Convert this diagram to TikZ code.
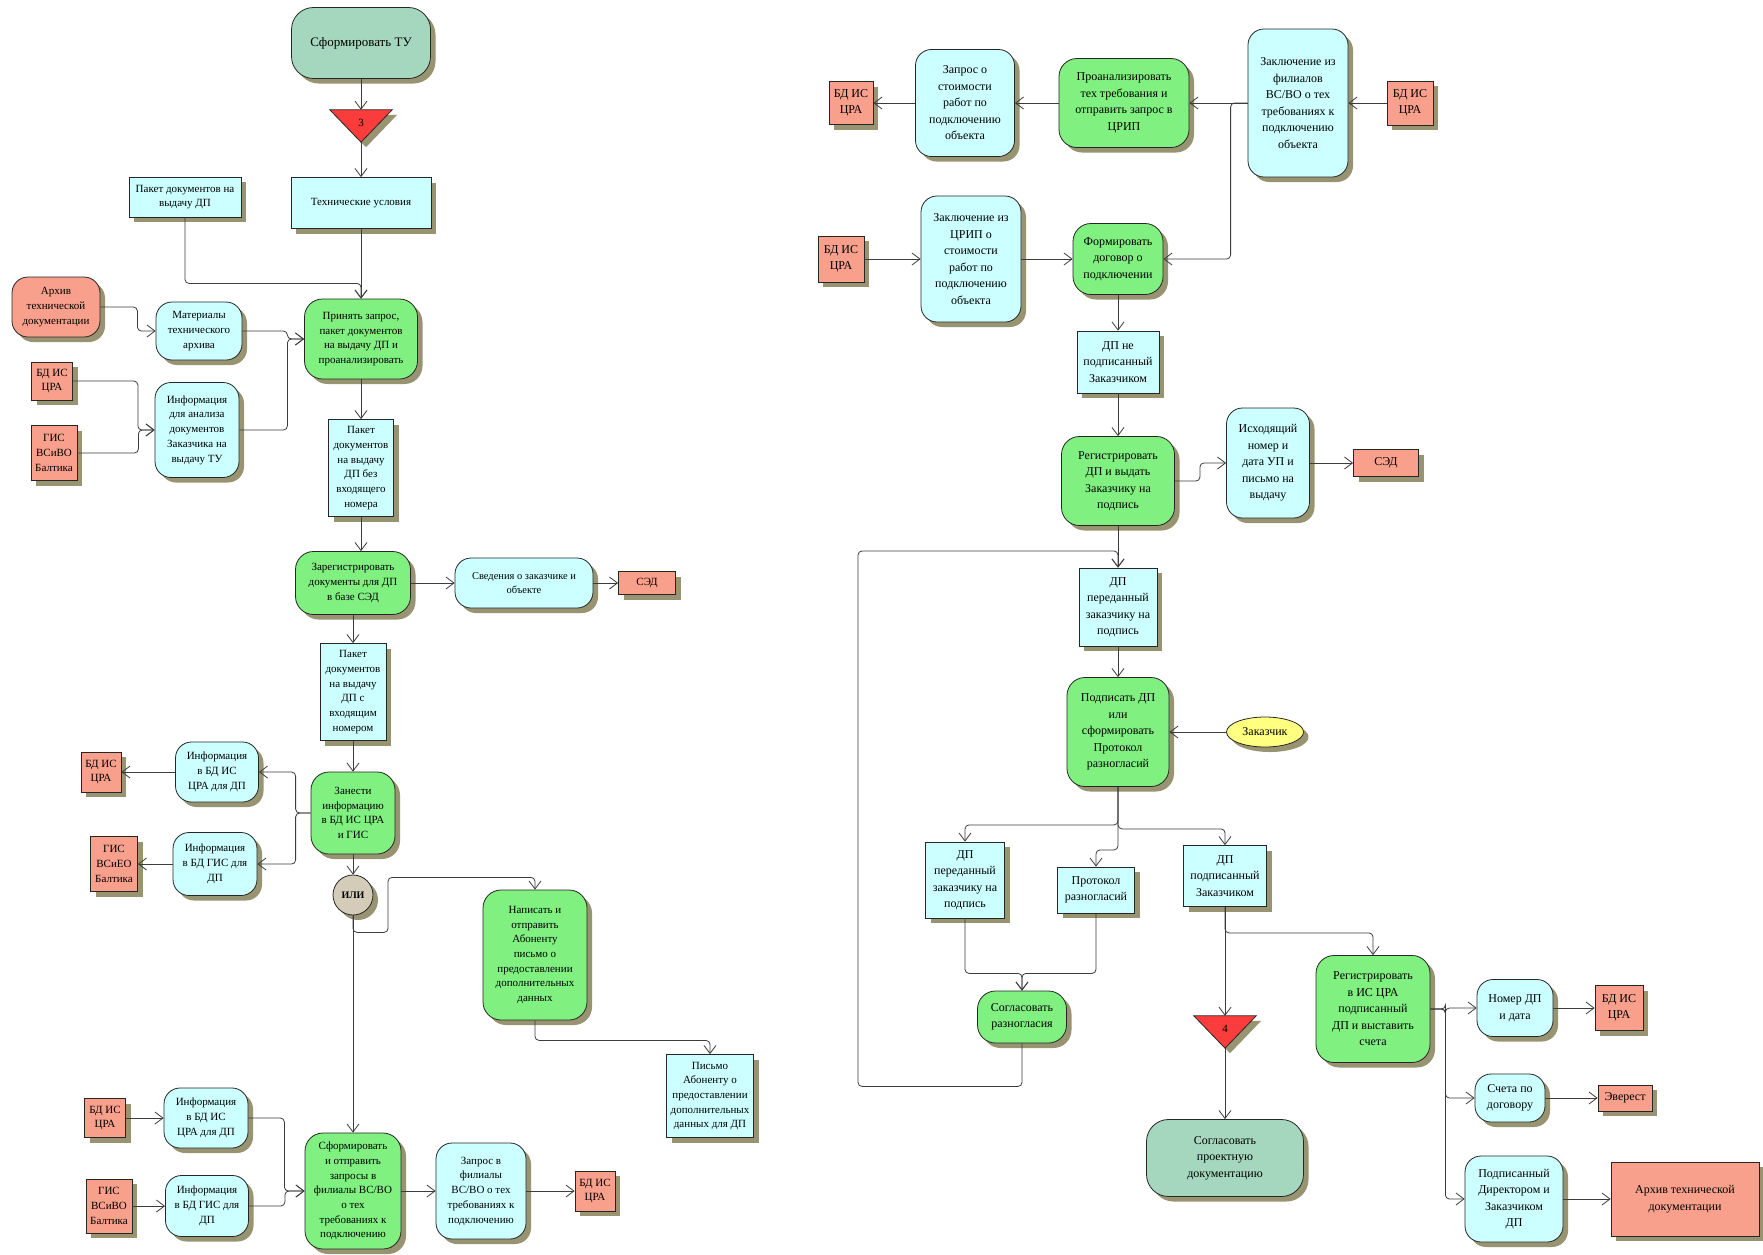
\documentclass[tikz,border=0pt]{standalone}
\usepackage{fontspec}
\setmainfont{Liberation Serif}
\usetikzlibrary{arrows.meta,shadows,shapes.geometric,backgrounds}

\definecolor{procgreen}{RGB}{128,240,128}
\definecolor{datacyan}{RGB}{204,255,255}
\definecolor{extsalmon}{RGB}{248,160,140}
\definecolor{termteal}{RGB}{165,215,190}
\definecolor{gatebeige}{RGB}{212,204,184}
\definecolor{actoryellow}{RGB}{255,255,128}
\definecolor{offred}{RGB}{250,60,60}
\definecolor{shadowc}{RGB}{152,148,114}
\definecolor{linec}{RGB}{60,60,60}

\begin{document}
\begin{tikzpicture}[x=1pt, y=-1pt,
    font=\fontsize{11}{14.7}\selectfont,
    base/.style={draw=black!85, line width=0.8pt, align=center, inner sep=1pt,
        drop shadow={shadow xshift=5pt, shadow yshift=-5pt, opacity=1, fill=shadowc}},
    proc/.style={base, fill=procgreen, rounded corners=18pt},
    data/.style={base, fill=datacyan, rounded corners=16pt},
    doc/.style={base, fill=datacyan},
    ext/.style={base, fill=extsalmon},
    term/.style={base, fill=termteal, rounded corners=22pt},
    gate/.style={base, circle, fill=gatebeige, minimum size=40, font=\fontsize{10}{12}\selectfont\bfseries},
    actor/.style={base, ellipse, fill=actoryellow},
    offp/.style={minimum width=62, minimum height=32, inner sep=0pt, font=\fontsize{11}{12}\selectfont},
    rgt/.style={font=\fontsize{12}{16.5}\selectfont},
    arrow/.style={-{Straight Barb[length=8pt,width=12pt]}, draw=linec, line width=0.8pt, rounded corners=4pt}
]
    \useasboundingbox (0,0) rectangle (1763,1254);

    % Left part: nodes
    \node[term, minimum width=139, minimum height=71, font=\fontsize{13}{16}\selectfont] (term1) at (361,43) {Сформировать ТУ};
    \node[offp] (t3) at (361,126) {\raisebox{6pt}{3}};
    \node[doc, minimum width=140, minimum height=51] (tu) at (361,203) {Технические условия};
    \node[doc, minimum width=112, minimum height=40] (pak1) at (185,197) {Пакет документов на\\выдачу ДП};
    \node[ext, rounded corners=16pt, minimum width=88, minimum height=60] (archl) at (56,307) {Архив\\технической\\документации};
    \node[data, minimum width=86, minimum height=58] (mat) at (199,331) {Материалы\\технического\\архива};
    \node[proc, minimum width=113, minimum height=80] (prin) at (361,339) {Принять запрос,\\пакет документов\\на выдачу ДП и\\проанализировать};
    \node[ext, minimum width=41, minimum height=38] (bd1) at (52,381) {БД ИС\\ЦРА};
    \node[ext, minimum width=46, minimum height=55] (gis1) at (54,453) {ГИС\\ВСиВО\\Балтика};
    \node[data, minimum width=84, minimum height=95] (info1) at (197,430) {Информация\\для анализа\\документов\\Заказчика на\\выдачу ТУ};
    \node[doc, minimum width=65, minimum height=97] (pak2) at (361,468) {Пакет\\документов\\на выдачу\\ДП без\\входящего\\номера};
    \node[proc, minimum width=115, minimum height=63] (reg1) at (353,583) {Зарегистрировать\\документы для ДП\\в базе СЭД};
    \node[data, minimum width=138, minimum height=50, font=\fontsize{10.5}{14}\selectfont] (sved) at (524,583) {Сведения о заказчике и\\объекте};
    \node[ext, minimum width=57, minimum height=23] (sed1) at (647,583) {СЭД};
    \node[doc, minimum width=66, minimum height=97] (pak3) at (353,692) {Пакет\\документов\\на выдачу\\ДП с\\входящим\\номером};
    \node[ext, minimum width=40, minimum height=40] (bd2) at (101,772) {БД ИС\\ЦРА};
    \node[data, minimum width=83, minimum height=60] (inf2) at (217,772) {Информация\\в БД ИС\\ЦРА для ДП};
    \node[proc, minimum width=84, minimum height=82] (zan) at (353,813) {Занести\\информацию\\в БД ИС ЦРА\\и ГИС};
    \node[ext, minimum width=47, minimum height=55] (gis2) at (114,864) {ГИС\\ВСиЕО\\Балтика};
    \node[data, minimum width=84, minimum height=63] (inf3) at (215,864) {Информация\\в БД ГИС для\\ДП};
    \node[gate] (ili) at (353,895) {ИЛИ};
    \node[proc, minimum width=104, minimum height=130] (nap) at (535,955) {Написать и\\отправить\\Абоненту\\письмо о\\предоставлении\\дополнительных\\данных};
    \node[doc, minimum width=87, minimum height=83] (pism) at (710,1096) {Письмо\\Абоненту о\\предоставлении\\дополнительных\\данных для ДП};
    \node[ext, minimum width=41, minimum height=39] (bdb) at (105,1118) {БД ИС\\ЦРА};
    \node[data, minimum width=84, minimum height=60] (infb1) at (206,1118) {Информация\\в БД ИС\\ЦРА для ДП};
    \node[ext, minimum width=46, minimum height=54] (gisb) at (109,1206) {ГИС\\ВСиВО\\Балтика};
    \node[data, minimum width=83, minimum height=61] (infb2) at (207,1206) {Информация\\в БД ГИС для\\ДП};
    \node[proc, minimum width=96, minimum height=116] (sf) at (353,1191) {Сформировать\\и отправить\\запросы в\\филиалы ВС/ВО\\о тех\\требованиях к\\подключению};
    \node[data, minimum width=90, minimum height=96] (zapf) at (481,1191) {Запрос в\\филиалы\\ВС/ВО о тех\\требованиях к\\подключению};
    \node[ext, minimum width=40, minimum height=40] (bdc) at (595,1191) {БД ИС\\ЦРА};

    % Right part: nodes
    \node[ext, rgt, minimum width=44, minimum height=43] (bdr1) at (851,103) {БД ИС\\ЦРА};
    \node[data, rgt, minimum width=99, minimum height=107] (zaps) at (965,103) {Запрос о\\стоимости\\работ по\\подключению\\объекта};
    \node[proc, rgt, minimum width=130, minimum height=89] (proan) at (1124,103) {Проанализировать\\тех требования и\\отправить запрос в\\ЦРИП};
    \node[data, rgt, minimum width=100, minimum height=148] (zakf) at (1298,103) {Заключение из\\филиалов\\ВС/ВО о тех\\требованиях к\\подключению\\объекта};
    \node[ext, rgt, minimum width=46, minimum height=44] (bdr2) at (1410,103) {БД ИС\\ЦРА};
    \node[ext, rgt, minimum width=46, minimum height=46] (bdr3) at (841,259) {БД ИС\\ЦРА};
    \node[data, rgt, minimum width=100, minimum height=126] (zakc) at (971,259) {Заключение из\\ЦРИП о\\стоимости\\работ по\\подключению\\объекта};
    \node[proc, rgt, minimum width=90, minimum height=71] (form) at (1118,259) {Формировать\\договор о\\подключении};
    \node[doc, rgt, minimum width=82, minimum height=62] (dpne) at (1118,362) {ДП не\\подписанный\\Заказчиком};
    \node[proc, rgt, minimum width=113, minimum height=89] (regdp) at (1118,481) {Регистрировать\\ДП и выдать\\Заказчику на\\подпись};
    \node[data, rgt, minimum width=83, minimum height=110] (isx) at (1268,463) {Исходящий\\номер и\\дата УП и\\письмо на\\выдачу};
    \node[ext, rgt, minimum width=65, minimum height=27] (sed2) at (1386,463) {СЭД};
    \node[doc, rgt, minimum width=78, minimum height=78] (dp1) at (1118,607) {ДП\\переданный\\заказчику на\\подпись};
    \node[proc, rgt, minimum width=102, minimum height=109] (podp) at (1118,732) {Подписать ДП\\или\\сформировать\\Протокол\\разногласий};
    \node[actor, rgt, minimum width=77, minimum height=30] (zak) at (1265,732) {Заказчик};
    \node[doc, rgt, minimum width=79, minimum height=76] (dp2) at (965,880) {ДП\\переданный\\заказчику на\\подпись};
    \node[doc, rgt, minimum width=77, minimum height=46] (prot) at (1096,890) {Протокол\\разногласий};
    \node[doc, rgt, minimum width=83, minimum height=61] (dpp) at (1225,876) {ДП\\подписанный\\Заказчиком};
    \node[proc, rgt, minimum width=89, minimum height=52] (soglr) at (1022,1017) {Согласовать\\разногласия};
    \node[offp] (t4) at (1225,1032) {\raisebox{6pt}{4}};
    \node[term, rgt, minimum width=157, minimum height=77] (sogp) at (1225,1158) {Согласовать\\проектную\\документацию};
    \node[proc, rgt, minimum width=114, minimum height=107] (regis) at (1373,1009) {Регистрировать\\в ИС ЦРА\\подписанный\\ДП и выставить\\счета};
    \node[data, rgt, minimum width=76, minimum height=57] (nom) at (1515,1008) {Номер ДП\\и дата};
    \node[ext, rgt, minimum width=48, minimum height=45] (bdr4) at (1619,1008) {БД ИС\\ЦРА};
    \node[data, rgt, minimum width=70, minimum height=48] (sch) at (1510,1098) {Счета по\\договору};
    \node[ext, rgt, minimum width=54, minimum height=26] (ever) at (1625,1098) {Эверест};
    \node[data, rgt, minimum width=98, minimum height=86] (pds) at (1514,1199) {Подписанный\\Директором и\\Заказчиком\\ДП};
    \node[ext, rgt, minimum width=148, minimum height=74] (arch2) at (1685,1199) {Архив технической\\документации};
    \coordinate (loopw) at (858,551);

    % Off-page triangles
    \begin{scope}[on background layer]
        \fill[shadowc] ([shift={(5pt,-5pt)}]t3.north west) -- ([shift={(5pt,-5pt)}]t3.north east) -- ([shift={(5pt,-5pt)}]t3.south) -- cycle;
        \filldraw[fill=offred, draw=black!85, line width=0.8pt] (t3.north west) -- (t3.north east) -- (t3.south) -- cycle;
        \fill[shadowc] ([shift={(5pt,-5pt)}]t4.north west) -- ([shift={(5pt,-5pt)}]t4.north east) -- ([shift={(5pt,-5pt)}]t4.south) -- cycle;
        \filldraw[fill=offred, draw=black!85, line width=0.8pt] (t4.north west) -- (t4.north east) -- (t4.south) -- cycle;
    \end{scope}

    % Left part: connectors
    \draw[arrow] (term1) -- (t3.north);
    \draw[arrow] (t3.south) -- (tu);
    \draw[arrow] (tu) -- (prin);
    \draw[arrow] (pak1.south) -- ++(0,66) -| (prin.north);
    \draw[arrow] (archl.east) -- ++(37,0) |- (mat.west);
    \draw[arrow] (mat.east) -- ++(45,0) |- (prin.west);
    \draw[arrow] (info1.east) -- ++(48,0) |- (prin.west);
    \draw[arrow] (bd1.east) -- ++(65,0) |- (info1.west);
    \draw[arrow] (gis1.east) -- ++(61,0) |- (info1.west);
    \draw[arrow] (prin) -- (pak2);
    \draw[arrow] (pak2) -- (pak2 |- reg1.north);
    \draw[arrow] (reg1) -- (sved);
    \draw[arrow] (sved) -- (sed1);
    \draw[arrow] (reg1) -- (pak3);
    \draw[arrow] (pak3) -- (zan);
    \draw[arrow] (zan.west) -- ++(-15,0) |- (inf2.east);
    \draw[arrow] (zan.west) -- ++(-15,0) |- (inf3.east);
    \draw[arrow] (inf2) -- (bd2);
    \draw[arrow] (inf3) -- (gis2);
    \draw[arrow] (zan) -- (ili);
    \draw[arrow] (ili) -- (sf);
    \draw[arrow] (ili.south) -- ++(0,17) -- ++(35,0) -- ++(0,-55) -| (nap.north);
    \draw[arrow] (nap.south) -- ++(0,20) -| (pism.north);
    \draw[arrow] (bdb) -- (infb1);
    \draw[arrow] (gisb) -- (infb2);
    \draw[arrow] (infb1.east) -- ++(36,0) |- (sf.west);
    \draw[arrow] (infb2.east) -- ++(36,0) |- (sf.west);
    \draw[arrow] (sf) -- (zapf);
    \draw[arrow] (zapf) -- (bdc);

    % Right part: connectors
    \draw[arrow] (bdr2) -- (zakf);
    \draw[arrow] (zakf.west) -- (proan.east);
    \draw[arrow] (zakf.west) -- ++(-17,0) |- (form.east);
    \draw[arrow] (proan) -- (zaps);
    \draw[arrow] (zaps) -- (bdr1);
    \draw[arrow] (bdr3) -- (zakc);
    \draw[arrow] (zakc) -- (form);
    \draw[arrow] (form) -- (dpne);
    \draw[arrow] (dpne) -- (regdp);
    \draw[arrow] (regdp.east) -- ++(25,0) |- (isx.west);
    \draw[arrow] (isx) -- (sed2);
    \draw[arrow] (regdp) -- (dp1);
    \draw[arrow] (soglr.south) -- ++(0,43) -| (loopw) -| (dp1.north);
    \draw[arrow] (dp1) -- (podp);
    \draw[arrow] (zak) -- (podp);
    \draw[arrow] (podp.south) -- ++(0,38) -| (dp2.north);
    \draw[arrow] (podp.south) -- ++(0,42) -| (dpp.north);
    \draw[arrow] (podp.south) -- ++(0,63) -| (prot.north);
    \draw[arrow] (dp2.south) -- ++(0,55) -| (soglr.north);
    \draw[arrow] (prot.south) -- ++(0,60) -| (soglr.north);
    \draw[arrow] (dpp) -- (t4.north);
    \draw[arrow] (dpp.south) -- ++(0,26) -| (regis.north);
    \draw[arrow] (t4.south) -- (sogp);
    \draw[arrow] (regis.east) -- ++(15,0) |- (nom.west);
    \draw[arrow] (regis.east) -- ++(15,0) |- (sch.west);
    \draw[arrow] (regis.east) -- ++(15,0) |- (pds.west);
    \draw[arrow] (nom) -- (bdr4);
    \draw[arrow] (sch) -- (ever);
    \draw[arrow] (pds) -- (arch2);
\end{tikzpicture}
\end{document}
